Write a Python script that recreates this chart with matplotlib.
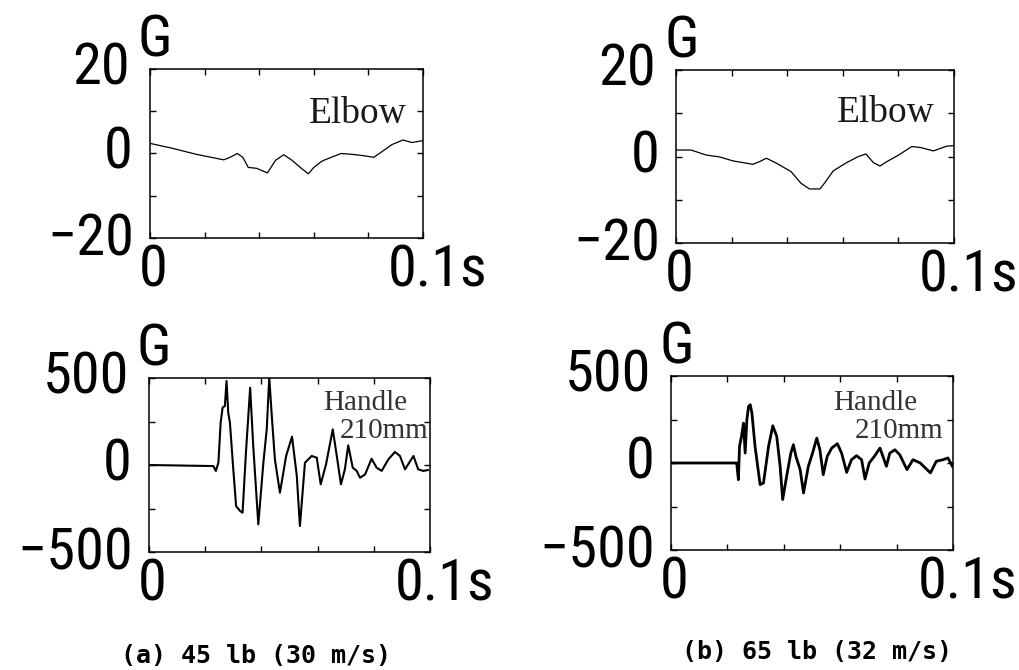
import matplotlib
matplotlib.use('Agg')
import matplotlib.pyplot as plt
from matplotlib import font_manager
from matplotlib.font_manager import FontProperties

# elbow acceleration, 45 lb (s, G)
t_elbow_a = [0, 0.0084, 0.017, 0.027, 0.029, 0.032, 0.034, 0.036, 0.039, 0.043, 0.046, 0.049, 0.052,
             0.0556, 0.058, 0.060, 0.063, 0.066, 0.070, 0.074, 0.078, 0.082, 0.084, 0.0886, 0.0927, 0.0959, 0.0996]
g_elbow_a = [2.4, 1.2, -0.2, -1.5, -1.0, 0.0, -0.9, -3.3, -3.5, -4.6, -1.6, -0.3, -1.6,
             -3.6, -4.8, -3.3, -1.8, -1.0, 0.0, -0.2, -0.5, -0.9, 0.0, 2.1, 3.2, 2.6, 3.0]

# elbow acceleration, 65 lb
t_elbow_b = [0, 0.0054, 0.0108, 0.0157, 0.0204, 0.0276, 0.030, 0.0325, 0.036, 0.0414, 0.045, 0.048, 0.0518,
             0.0536, 0.0566, 0.0614, 0.0656, 0.0683, 0.071, 0.0734, 0.0758, 0.080, 0.0848, 0.0878, 0.0926, 0.0974, 0.0998]
g_elbow_b = [1.5, 1.5, 0.35, -0.1, -1.0, -1.8, -1.2, -0.4, -1.5, -3.5, -6.2, -7.5, -7.5,
             -6.0, -3.3, -1.4, 0.0, 0.6, -1.4, -2.2, -1.2, 0.3, 2.3, 2.1, 1.3, 2.4, 2.5]

# handle acceleration at 210 mm, 45 lb
t_handle_a = [0, 0.0229, 0.0238, 0.0247, 0.0255, 0.0262, 0.027, 0.0276, 0.0282, 0.0288, 0.030, 0.031, 0.0324,
              0.0333, 0.0345, 0.036, 0.0371, 0.0389, 0.0407, 0.0419, 0.0428, 0.0437, 0.0448, 0.0466, 0.0488,
              0.0509, 0.0526, 0.0537, 0.0555, 0.0579, 0.0597, 0.0611, 0.063, 0.0654, 0.067, 0.0683, 0.0697,
              0.0709, 0.0725, 0.0739, 0.0751, 0.0769, 0.0792, 0.081, 0.0828, 0.0852, 0.0875, 0.0893, 0.0911,
              0.0941, 0.0958, 0.0976, 0.0992]
g_handle_a = [0, -6, -34, 13, 243, 330, 339, 483, 301, 243, -25, -236, -264,
              -274, 71, 444, 109, -341, 13, 205, 502, 282, 33, -159, 52,
              163, -63, -351, 13, 52, 42, -111, 4, 205, 33, -111, -25,
              113, -15, -34, -73, -54, 36, -15, -34, 33, 75, 52, -25,
              52, -25, -34, -29]

# handle acceleration at 210 mm, 65 lb
t_handle_b = [0, 0.0233, 0.0239, 0.0243, 0.025, 0.0257, 0.0263, 0.0269, 0.0275, 0.0281, 0.0287, 0.0298, 0.0316,
              0.0328, 0.0346, 0.0361, 0.0375, 0.0387, 0.0396, 0.041, 0.0425, 0.0434, 0.0443, 0.0458, 0.047,
              0.0487, 0.0502, 0.0517, 0.0528, 0.054, 0.0554, 0.057, 0.059, 0.0605, 0.0623, 0.064, 0.0658,
              0.0676, 0.0688, 0.0703, 0.0723, 0.0741, 0.0764, 0.0776, 0.0794, 0.0811, 0.0837, 0.0858, 0.0884,
              0.092, 0.0941, 0.0965, 0.0982, 0.0998]
g_handle_b = [0, 0, -96, 96, 153, 229, 57, 249, 325, 335, 287, 96, -124,
              -115, 96, 214, 153, -19, -210, -77, 57, 105, 38, -38, -172,
              -19, 57, 143, 76, -67, 38, 86, 111, 57, -54, 19, 42,
              19, -92, 0, 42, 86, -19, 57, 76, 48, -38, 19, 0,
              -57, 10, 19, 29, -19]

captions = ['(a) 45 lb (30 m/s)', '(b) 65 lb (32 m/s)']


def pick_narrow_font():
    # look for a condensed sans face, otherwise plain Liberation Sans
    prefs = ['Liberation Sans Narrow', 'Noto Sans', 'Open Sans', 'Roboto', 'DejaVu Sans', 'Lato', 'Inter']
    found = []
    for f in font_manager.fontManager.ttflist:
        if f.style != 'normal' or f.weight not in (400, 'normal', 'regular', 'book'):
            continue
        narrow = ('Narrow' in f.name or 'Condensed' in f.name or 'condensed' in str(f.stretch))
        if not narrow or 'xtra' in f.name or 'extra' in str(f.stretch) or 'Mono' in f.name:
            continue
        if 'semi' in str(f.stretch).lower() or 'Semi' in f.name:
            continue
        rank = next((i for i, p in enumerate(prefs) if f.name.startswith(p)), len(prefs))
        found.append((rank, f.fname))
    if found:
        found.sort()
        return FontProperties(fname=found[0][1]), True
    return FontProperties(family='Liberation Sans'), False


num_fp, is_narrow = pick_narrow_font()
fs = 42 if is_narrow else 36
num_fp.set_size(fs)

fig = plt.figure(figsize=(10.19, 6.70), dpi=100)

panels = [
    ([0.1472, 0.6448, 0.2679, 0.2522], t_elbow_a, g_elbow_a, 20, 0.9, ['Elbow']),
    ([0.6634, 0.6373, 0.2728, 0.2582], t_elbow_b, g_elbow_b, 20, 0.9, ['Elbow']),
    ([0.1462, 0.1761, 0.2758, 0.2597], t_handle_a, g_handle_a, 500, 1.5, ['Handle', '210mm']),
    ([0.6585, 0.1791, 0.2767, 0.2597], t_handle_b, g_handle_b, 500, 2.0, ['Handle', '210mm']),
]
label_pos = {
    'Elbow': [[(0.941, 0.680)], [(0.932, 0.699)]],
    'Handle': [[(0.918, 0.816), (0.993, 0.655)], [(0.872, 0.805), (0.965, 0.644)]],
}

for i, (rect, t, g, lim, lw, names) in enumerate(panels):
    ax = fig.add_axes(rect)
    ax.plot(t, g, color='black', lw=lw)
    ax.set_xlim(0, 0.1)
    ax.set_ylim(-lim, lim)
    ax.set_xticks([0, 0.02, 0.04, 0.06, 0.08, 0.1])
    ax.set_yticks([-lim, -lim / 2, 0, lim / 2, lim])
    ax.tick_params(direction='in', length=4, width=1, top=True, right=True,
                   labelbottom=False, labelleft=False)
    for s in ax.spines.values():
        s.set_linewidth(1.1)

    kw = dict(fontproperties=num_fp, textcoords='offset pixels', annotation_clip=False)
    yc = ('axes fraction', 'data')
    ax.annotate(f'{lim}', xy=(0, lim), xycoords=yc, xytext=(-20, 0), ha='right', va='center', **kw)
    ax.annotate('0', xy=(0, 0), xycoords=yc, xytext=(-17, 0), ha='right', va='center', **kw)
    ax.annotate(f'\u2212{lim}', xy=(0, -lim), xycoords=yc, xytext=(-16, -2), ha='right', va='center', **kw)
    ax.annotate('G', xy=(0, 1), xycoords='axes fraction', xytext=(-12, 28), ha='left', va='center', **kw)
    ax.annotate('0', xy=(0, 0), xycoords='axes fraction', xytext=(3, -33), ha='center', va='center', **kw)
    ax.annotate('0.1s', xy=(1, 0), xycoords='axes fraction', xytext=(-35, -33), ha='left', va='center', **kw)

    col = i % 2
    if names[0] == 'Elbow':
        x, y = label_pos['Elbow'][col][0]
        ax.text(x, y, 'Elbow', transform=ax.transAxes, ha='right', va='baseline',
                fontsize=27, family='Liberation Serif', color='#1a1a1a')
    else:
        for name, (x, y) in zip(names, label_pos['Handle'][col]):
            ax.text(x, y, name, transform=ax.transAxes, ha='right', va='baseline',
                    fontsize=21, family='Liberation Serif', color='#333333')

fig.text(256 / 1019, 1 - 656 / 670, captions[0], ha='center', va='center',
         fontsize=18, family='DejaVu Sans Mono', fontweight='bold')
fig.text(817 / 1019, 1 - 652 / 670, captions[1], ha='center', va='center',
         fontsize=18, family='DejaVu Sans Mono', fontweight='bold')

fig.savefig('out.png', dpi=100)
